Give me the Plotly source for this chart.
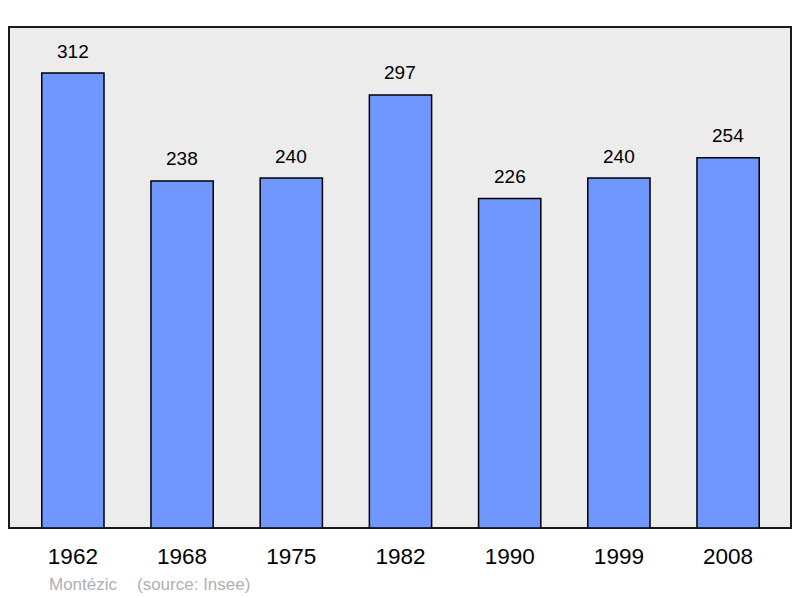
import plotly.graph_objects as go

# population figures
years = ["1962", "1968", "1975", "1982", "1990", "1999", "2008"]
population = [312, 238, 240, 297, 226, 240, 254]
place = "Montézic"
source = "(source: Insee)"

font_family = "Liberation Sans, Arial, sans-serif"

fig = go.Figure()

fig.add_trace(
    go.Bar(
        x=years,
        y=population,
        width=0.57,
        marker=dict(color="#7097ff", line=dict(color="black", width=1.5)),
        hoverinfo="x+y",
    )
)

# value labels above each bar (x given as category index)
for i, val in enumerate(population):
    fig.add_annotation(
        x=i, y=val, text=str(val), showarrow=False,
        yanchor="middle", yshift=22,
        font=dict(family=font_family, size=19, color="black"),
    )

# footer
fig.add_annotation(
    xref="paper", yref="paper", x=0.0485, y=-0.112,
    xanchor="left", yanchor="middle", showarrow=False,
    text=place, font=dict(family=font_family, size=17, color="#b0b0b0"),
)
fig.add_annotation(
    xref="paper", yref="paper", x=0.1615, y=-0.112,
    xanchor="left", yanchor="middle", showarrow=False,
    text=source, font=dict(family=font_family, size=17, color="#b0b0b0"),
)

# grey panel with dark border
fig.add_shape(
    type="rect", xref="paper", yref="paper", x0=0, y0=0, x1=1, y1=1,
    line=dict(color="#1a1a1a", width=2), fillcolor="#ececec", layer="below",
)

fig.update_layout(
    width=784, height=590,
    margin=dict(l=1, r=1, t=19, b=70),
    paper_bgcolor="white",
    plot_bgcolor="rgba(0,0,0,0)",
    showlegend=False,
    xaxis=dict(
        type="category",
        range=[-0.585, 6.576], showgrid=False, zeroline=False, showline=False,
        ticks="", ticklabelstandoff=12,
        tickfont=dict(family=font_family, size=22.5, color="black"),
    ),
    yaxis=dict(
        range=[0, 343.6], showgrid=False, zeroline=False, showline=False,
        showticklabels=False,
    ),
)

fig.write_html("out.html")
